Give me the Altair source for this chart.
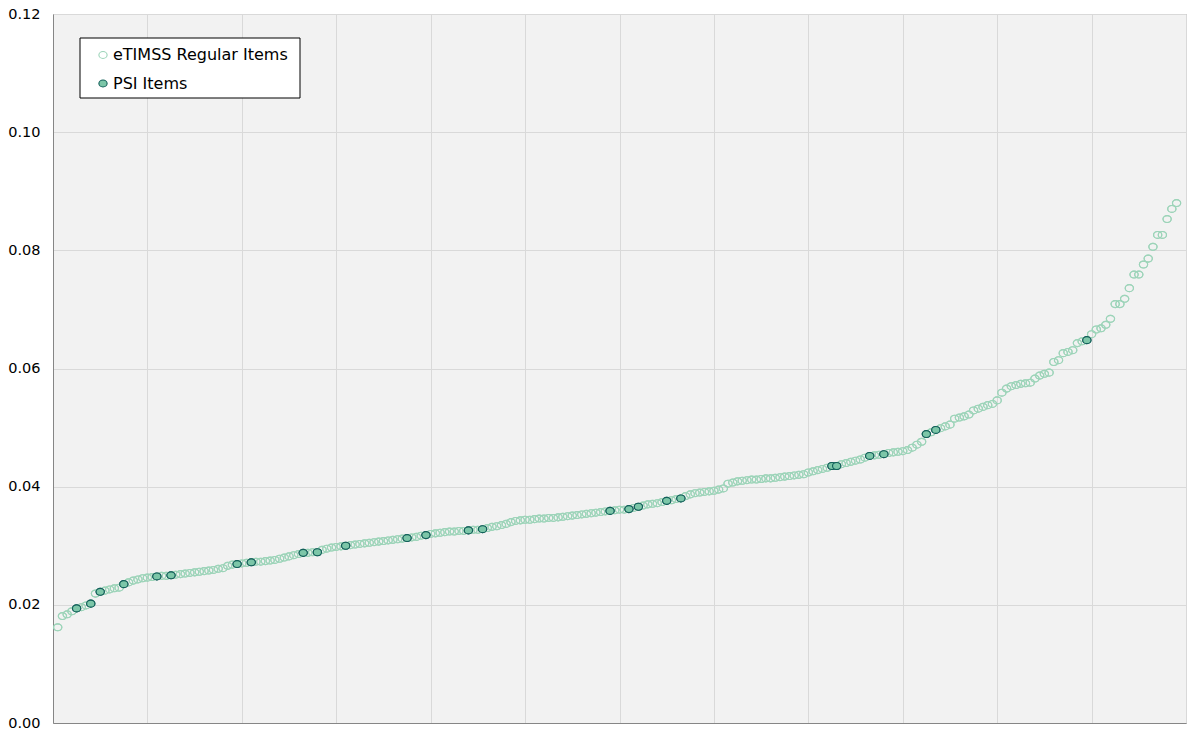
import altair as alt
import pandas as pd

# Item values (sorted)
values = [
    0.0162, 0.0181, 0.0184, 0.0189, 0.0194, 0.0196, 0.0199, 0.0202, 0.0219, 0.0222,
    0.0224, 0.0226, 0.0228, 0.0229, 0.0235, 0.0238, 0.0241, 0.0243, 0.0245, 0.0246,
    0.0247, 0.0248, 0.0249, 0.0249, 0.0250, 0.0251, 0.0252, 0.0253, 0.0254, 0.0255,
    0.0256, 0.0257, 0.0258, 0.0259, 0.0261, 0.0262, 0.0266, 0.0268, 0.0269, 0.0270,
    0.0271, 0.0272, 0.0273, 0.0273, 0.0274, 0.0275, 0.0276, 0.0278, 0.0280, 0.0282,
    0.0284, 0.0286, 0.0288, 0.0288, 0.0289, 0.0289, 0.0293, 0.0295, 0.0297, 0.0298,
    0.0299, 0.0300, 0.0301, 0.0302, 0.0303, 0.0304, 0.0305, 0.0306, 0.0307, 0.0308,
    0.0309, 0.0310, 0.0311, 0.0312, 0.0313, 0.0314, 0.0315, 0.0317, 0.0318, 0.0320,
    0.0321, 0.0322, 0.0323, 0.0324, 0.0324, 0.0325, 0.0325, 0.0326, 0.0327, 0.0327,
    0.0328, 0.0330, 0.0332, 0.0333, 0.0335, 0.0337, 0.0340, 0.0342, 0.0343, 0.0344,
    0.0344, 0.0345, 0.0346, 0.0346, 0.0347, 0.0347, 0.0348, 0.0349, 0.0350, 0.0351,
    0.0352, 0.0353, 0.0354, 0.0355, 0.0356, 0.0357, 0.0358, 0.0359, 0.0360, 0.0361,
    0.0361, 0.0362, 0.0364, 0.0366, 0.0368, 0.0370, 0.0371, 0.0372, 0.0374, 0.0376,
    0.0377, 0.0379, 0.0380, 0.0384, 0.0387, 0.0389, 0.0390, 0.0391, 0.0392, 0.0393,
    0.0395, 0.0397, 0.0405, 0.0407, 0.0409, 0.0410, 0.0411, 0.0412, 0.0412, 0.0413,
    0.0414, 0.0414, 0.0415, 0.0416, 0.0417, 0.0418, 0.0419, 0.0420, 0.0421, 0.0424,
    0.0426, 0.0428, 0.0430, 0.0432, 0.0435, 0.0435, 0.0438, 0.0440, 0.0442, 0.0444,
    0.0446, 0.0449, 0.0452, 0.0453, 0.0454, 0.0455, 0.0457, 0.0458, 0.0459, 0.0460,
    0.0462, 0.0466, 0.0471, 0.0476, 0.0489, 0.0492, 0.0496, 0.0499, 0.0502, 0.0505,
    0.0515, 0.0517, 0.0519, 0.0522, 0.0529, 0.0532, 0.0535, 0.0538, 0.0540, 0.0546,
    0.0559, 0.0566, 0.0570, 0.0572, 0.0574, 0.0575, 0.0576, 0.0583, 0.0588, 0.0591,
    0.0593, 0.0611, 0.0614, 0.0626, 0.0628, 0.0631, 0.0643, 0.0646, 0.0648, 0.0658,
    0.0666, 0.0668, 0.0674, 0.0684, 0.0709, 0.0709, 0.0718, 0.0736, 0.0759, 0.0759,
    0.0776, 0.0786, 0.0806, 0.0826, 0.0826, 0.0853, 0.0870, 0.0880,
]

# Positions (1-based) of PSI items in the sorted sequence
psi_positions = [5, 8, 10, 15, 22, 25, 39, 42, 53, 56, 62, 75, 79, 88, 91,
                 118, 122, 124, 130, 133, 165, 166, 173, 176, 185, 187, 219]

series_names = ["eTIMSS Regular Items", "PSI Items"]

rows = []
for i, v in enumerate(values, start=1):
    rows.append({"item": i, "value": v,
                 "series": series_names[1] if i in psi_positions else series_names[0]})
df = pd.DataFrame(rows)
df["order"] = (df["series"] == series_names[1]).astype(int)

FONT = "DejaVu Sans"
ELLIPSE = "M-1,0A1,0.84,0,1,1,1,0A1,0.84,0,1,1,-1,0Z"

x_scale = alt.Scale(domain=[0, 240], nice=False)
y_scale = alt.Scale(domain=[0, 0.12], nice=False)

legend_cfg = dict(title=None, orient="none", legendX=42, legendY=33,
                  labelFont=FONT, labelFontSize=16, labelColor="#000000",
                  labelLimit=400,
                  rowPadding=12.5, symbolSize=68, symbolStrokeWidth=1.1,
                  symbolType=ELLIPSE, labelOffset=2)

legend_box = alt.Chart(pd.DataFrame({"a": [0]})).mark_rect(
    fill="white", stroke="black", strokeWidth=1
).encode(
    x=alt.value(27), x2=alt.value(247), y=alt.value(24), y2=alt.value(84)
)

points = alt.Chart(df).mark_point(
    shape=ELLIPSE, size=68, strokeWidth=1.15, filled=False, opacity=1
).encode(
    x=alt.X("item:Q", scale=x_scale,
            axis=alt.Axis(values=list(range(0, 241, 20)), labels=False, ticks=False,
                          title=None, grid=True, gridColor="#d9d9d9",
                          domainColor="#868686")),
    y=alt.Y("value:Q", scale=y_scale,
            axis=alt.Axis(values=[0, 0.02, 0.04, 0.06, 0.08, 0.10, 0.12], format=".2f",
                          title=None, ticks=False, labelPadding=13, labelFontSize=14.5,
                          labelFont=FONT, labelColor="#000000", grid=True,
                          gridColor="#d9d9d9", domainColor="#868686")),
    fill=alt.Fill("series:N", scale=alt.Scale(domain=series_names,
                                               range=["transparent", "#7cc6a8"]),
                  legend=alt.Legend(**legend_cfg)),
    stroke=alt.Stroke("series:N", scale=alt.Scale(domain=series_names,
                                                   range=["#9dd4b9", "#13605a"]),
                      legend=alt.Legend(**legend_cfg)),
    order=alt.Order("order:Q"),
)

chart = alt.layer(points, legend_box, points.encode()).properties(
    width=1133, height=709,
    autosize=alt.AutoSizeParams(type="none"),
    padding={"left": 53, "top": 14, "right": 13, "bottom": 7},
    background="white",
).configure_view(
    fill="#f2f2f2", stroke="#a6a6a6", strokeWidth=1
)

chart.save("out.html", embed_options={"renderer": "svg", "actions": False})
